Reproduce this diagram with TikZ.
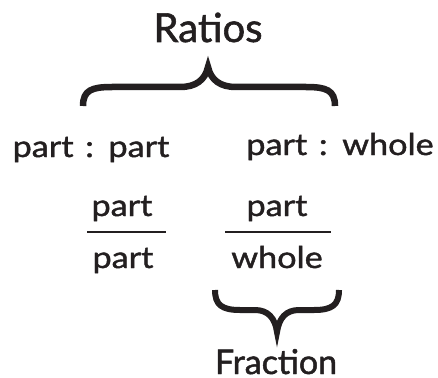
\documentclass[tikz,border=0pt]{standalone}
\usepackage{fontspec}
\setmainfont{Lato}
\newfontfamily\lblfont{Lato}[FakeBold=1.4,FakeStretch=1.14]
\newfontfamily\ttlfont{Lato}[FakeBold=1.4]
\definecolor{ink}{HTML}{231F20}
\tikzset{
  lbl/.style={text=ink, inner sep=0pt, anchor=base, font=\lblfont\fontsize{30}{30}\selectfont},
  bigtxt/.style={lbl, font=\ttlfont\fontsize{40}{40}\selectfont},
  midtxt/.style={lbl, font=\ttlfont\fontsize{34}{34}\selectfont},
  brace/.style={draw=ink, line width=6.5pt, line cap=butt, line join=miter, miter limit=20},
  barline/.style={draw=ink, line width=2.4pt}
}
\newcommand{\colsep}{\hspace{3pt}:\hspace{3pt}}
\begin{document}
\begin{tikzpicture}[x=1pt,y=-1pt]
\useasboundingbox (0,0) rectangle (438,377);
\node[bigtxt] (ratios) at (208,42) {Ratios};
\node[lbl] (pp) at (91,157) {part \colsep{} part};
\node[lbl] (pw) at (340,155) {part \colsep{} whole};
\node[lbl] (n1) at (122,216) {part};
\node[lbl] (d1) at (123,268) {part};
\node[lbl] (n2) at (277,216) {part};
\node[lbl] (d2) at (277,268) {whole};
\node[midtxt] (frac) at (276,374) {Fraction};
\coordinate (l1a) at (87,232); \coordinate (l1b) at (166,232);
\coordinate (l2a) at (225,232); \coordinate (l2b) at (331,232);
\draw[barline] (l1a) -- (l1b);
\draw[barline] (l2a) -- (l2b);
% big brace
\coordinate (bl) at (83,106); \coordinate (bt) at (208,67); \coordinate (br) at (335,106);
\draw[brace] (bl) .. controls (83,90) and (92,87) .. (112,87)
  -- (180,87) .. controls (196,87) and (205,80) .. (bt)
  .. controls (211,80) and (220,87) .. (236,87)
  -- (306,87) .. controls (326,87) and (335,90) .. (br);
% small brace
\coordinate (sl) at (215,290); \coordinate (st) at (277,332); \coordinate (sr) at (339,290);
\draw[brace, line width=6pt] (sl) .. controls (215,305) and (222,310) .. (240,310)
  -- (255,310) .. controls (268,310) and (275,318) .. (st)
  .. controls (279,318) and (286,310) .. (299,310)
  -- (314,310) .. controls (332,310) and (339,305) .. (sr);
\end{tikzpicture}
\end{document}
